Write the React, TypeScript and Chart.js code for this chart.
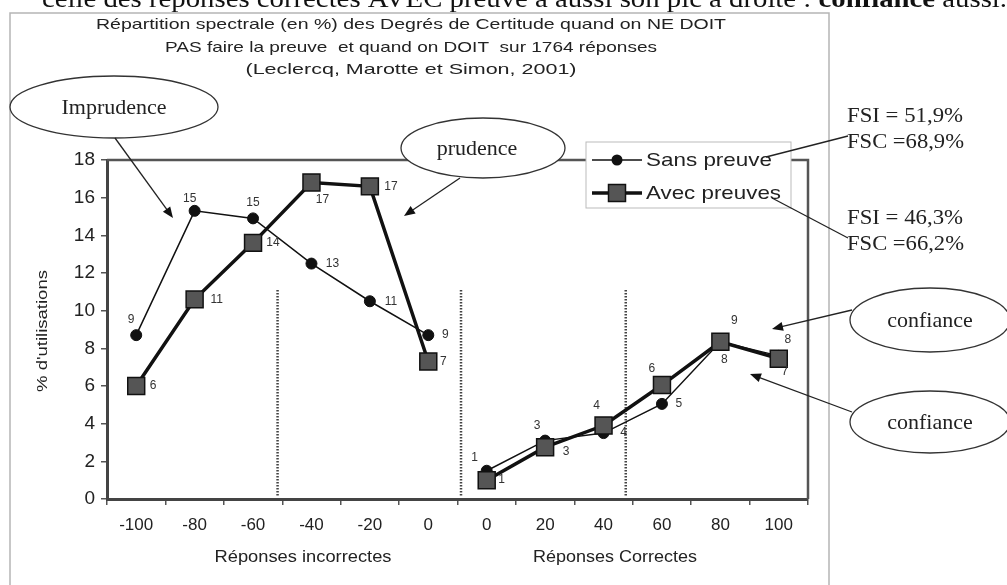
import React, { useEffect, useRef } from 'react';
import { Chart, registerables } from 'chart.js';

Chart.register(...registerables);

const categories = ['-100', '-80', '-60', '-40', '-20', '0', '0', '20', '40', '60', '80', '100'];
const sansPreuve = [8.7, 15.3, 14.9, 12.5, 10.5, 8.7, 1.5, 3.1, 3.5, 5.05, 8.35, 7.6];
const avecPreuves = [6.0, 10.6, 13.6, 16.8, 16.6, 7.3, 1.0, 2.75, 3.9, 6.05, 8.35, 7.45];
const sansLabels = ['9', '15', '15', '13', '11', '9', '1', '3', '4', '5', '9', '8'];
const avecLabels = ['6', '11', '14', '17', '17', '7', '1', '3', '4', '6', '8', '7'];
const seriesNames = ['Sans preuve', 'Avec preuves'];
const titleLines = [
  'Répartition spectrale (en %) des Degrés de Certitude quand on NE DOIT',
  'PAS faire la preuve  et quand on DOIT  sur 1764 réponses',
  '(Leclercq, Marotte et Simon, 2001)',
];
const xTitles = ['Réponses incorrectes', 'Réponses Correctes'];
const yTitle = "% d'utilisations";
const headerNormal = 'celle des réponses correctes AVEC preuve a aussi son pic à droite : ';
const headerBold = 'confiance';
const headerEnd = ' aussi.';
const fsSans = ['FSI = 51,9%', 'FSC =68,9%'];
const fsAvec = ['FSI = 46,3%', 'FSC =66,2%'];
const bubbleTexts = ['Imprudence', 'prudence', 'confiance', 'confiance'];

function fitText(ctx: CanvasRenderingContext2D, text: string, x: number, y: number, font: string, width: number | null, align: CanvasTextAlign = 'center') {
  ctx.save();
  ctx.font = font;
  const w = ctx.measureText(text).width;
  const s = width ? width / w : 1;
  ctx.translate(x, y);
  ctx.scale(s, 1);
  ctx.textAlign = align;
  ctx.textBaseline = 'middle';
  ctx.fillText(text, 0, 0);
  ctx.restore();
}

function arrow(ctx: CanvasRenderingContext2D, x1: number, y1: number, x2: number, y2: number, head = true) {
  ctx.save();
  ctx.strokeStyle = '#222';
  ctx.fillStyle = '#111';
  ctx.lineWidth = 1.3;
  const ang = Math.atan2(y2 - y1, x2 - x1);
  const hl = head ? 11 : 0;
  ctx.beginPath();
  ctx.moveTo(x1, y1);
  ctx.lineTo(x2 - Math.cos(ang) * hl * 0.8, y2 - Math.sin(ang) * hl * 0.8);
  ctx.stroke();
  if (head) {
    ctx.beginPath();
    ctx.moveTo(x2, y2);
    ctx.lineTo(x2 - hl * Math.cos(ang) + 4.5 * Math.sin(ang), y2 - hl * Math.sin(ang) - 4.5 * Math.cos(ang));
    ctx.lineTo(x2 - hl * Math.cos(ang) - 4.5 * Math.sin(ang), y2 - hl * Math.sin(ang) + 4.5 * Math.cos(ang));
    ctx.closePath();
    ctx.fill();
  }
  ctx.restore();
}

function bubble(ctx: CanvasRenderingContext2D, cx: number, cy: number, rx: number, ry: number, text: string, tx?: number) {
  ctx.save();
  ctx.beginPath();
  ctx.ellipse(cx, cy, rx, ry, 0, 0, Math.PI * 2);
  ctx.fillStyle = '#fff';
  ctx.fill();
  ctx.strokeStyle = '#333';
  ctx.lineWidth = 1.3;
  ctx.stroke();
  ctx.fillStyle = '#222';
  fitText(ctx, text, tx ?? cx, cy + 1, '22px "Liberation Serif", "Times New Roman", serif', null);
  ctx.restore();
}

const sansOffsets = [[-5, -15], [-5, -12], [0, -16], [21, 0], [21, 0], [17, 0], [-12, -13], [-8, -15], [20, 0], [17, 0], [14, -21], [9, -16]];
const avecOffsets = [[17, 0], [22, 0], [20, 0], [11, 17], [21, 0], [15, 0], [15, 0], [21, 4], [-7, -20], [-10, -16], [4, 18], [6, 13]];

const decorPlugin = {
  id: 'decor',
  beforeDraw(chart: any) {
    const ctx = chart.ctx as CanvasRenderingContext2D;
    ctx.save();
    ctx.fillStyle = '#fff';
    ctx.fillRect(0, 0, chart.width, chart.height);
    ctx.strokeStyle = '#b5b5b5';
    ctx.lineWidth = 1.5;
    ctx.strokeRect(10, 13, 819, 600);
    // header (cut) text, stretched to the scanned width
    ctx.fillStyle = '#111';
    ctx.textBaseline = 'alphabetic';
    const reg = '25px "Liberation Serif", "Times New Roman", serif';
    const bold = 'bold 25px "Liberation Serif", "Times New Roman", serif';
    ctx.font = reg;
    const w1 = ctx.measureText(headerNormal).width;
    const w3 = ctx.measureText(headerEnd).width;
    ctx.font = bold;
    const w2 = ctx.measureText(headerBold).width;
    const s = 965 / (w1 + w2 + w3);
    ctx.translate(42, 7);
    ctx.scale(s, 1);
    ctx.font = reg;
    ctx.fillText(headerNormal, 0, 0);
    ctx.font = bold;
    ctx.fillText(headerBold, w1, 0);
    ctx.font = reg;
    ctx.fillText(headerEnd, w1 + w2, 0);
    ctx.restore();
  },
  beforeDatasetsDraw(chart: any) {
    const ctx = chart.ctx as CanvasRenderingContext2D;
    const { left, right, top, bottom } = chart.chartArea;
    const xs = chart.scales.x;
    const ys = chart.scales.y;
    ctx.save();
    ctx.strokeStyle = '#555';
    ctx.lineWidth = 2.5;
    ctx.beginPath();
    ctx.moveTo(left, top);
    ctx.lineTo(right, top);
    ctx.lineTo(right, bottom);
    ctx.stroke();
    // dotted separators
    ctx.strokeStyle = '#444';
    ctx.lineWidth = 2.5;
    ctx.setLineDash([1.5, 1.5]);
    const step = xs.getPixelForValue(1) - xs.getPixelForValue(0);
    [2.42, 5.56, 8.38].forEach((p) => {
      const px = xs.getPixelForValue(0) + p * step;
      ctx.beginPath();
      ctx.moveTo(px, ys.getPixelForValue(11.1));
      ctx.lineTo(px, bottom - 3);
      ctx.stroke();
    });
    ctx.restore();
  },
  afterDatasetsDraw(chart: any) {
    const ctx = chart.ctx as CanvasRenderingContext2D;
    ctx.save();
    ctx.fillStyle = '#333';
    ctx.font = '12px "Liberation Sans", Arial, sans-serif';
    ctx.textAlign = 'center';
    ctx.textBaseline = 'middle';
    const m0 = chart.getDatasetMeta(0);
    const m1 = chart.getDatasetMeta(1);
    m0.data.forEach((pt: any, i: number) => {
      ctx.fillText(sansLabels[i], pt.x + sansOffsets[i][0], pt.y + sansOffsets[i][1]);
    });
    m1.data.forEach((pt: any, i: number) => {
      ctx.fillText(avecLabels[i], pt.x + avecOffsets[i][0], pt.y + avecOffsets[i][1]);
    });
    ctx.restore();
  },
  afterDraw(chart: any) {
    const ctx = chart.ctx as CanvasRenderingContext2D;
    ctx.save();
    ctx.fillStyle = '#222';
    // title
    const tw = [630, 492, 331];
    const ty = [25, 48, 70];
    titleLines.forEach((t, i) => fitText(ctx, t, 411, ty[i], '15px "Liberation Sans", Arial, sans-serif', tw[i]));
    // y title
    ctx.save();
    ctx.translate(43, 331);
    ctx.rotate(-Math.PI / 2);
    fitText(ctx, yTitle, 0, 0, '14px "Liberation Sans", Arial, sans-serif', 122);
    ctx.restore();
    // x titles
    fitText(ctx, xTitles[0], 303, 557, '17px "Liberation Sans", Arial, sans-serif', 177);
    fitText(ctx, xTitles[1], 615, 557, '17px "Liberation Sans", Arial, sans-serif', 164);

    // legend
    ctx.fillStyle = '#fff';
    ctx.fillRect(586, 142, 205, 66);
    ctx.strokeStyle = '#bbb';
    ctx.lineWidth = 1;
    ctx.strokeRect(586, 142, 205, 66);
    ctx.strokeStyle = '#111';
    ctx.lineWidth = 1.5;
    ctx.beginPath();
    ctx.moveTo(592, 160);
    ctx.lineTo(642, 160);
    ctx.stroke();
    ctx.fillStyle = '#111';
    ctx.beginPath();
    ctx.arc(617, 160, 5.5, 0, Math.PI * 2);
    ctx.fill();
    ctx.lineWidth = 3.5;
    ctx.beginPath();
    ctx.moveTo(592, 193);
    ctx.lineTo(642, 193);
    ctx.stroke();
    ctx.fillStyle = '#555';
    ctx.fillRect(608.5, 184.5, 17, 17);
    ctx.lineWidth = 1.5;
    ctx.strokeRect(608.5, 184.5, 17, 17);
    ctx.fillStyle = '#222';
    fitText(ctx, seriesNames[0], 646, 161, '19px "Liberation Sans", Arial, sans-serif', 126, 'left');
    fitText(ctx, seriesNames[1], 646, 194, '19px "Liberation Sans", Arial, sans-serif', 135, 'left');

    // bubbles
    bubble(ctx, 114, 107, 104, 31, bubbleTexts[0]);
    bubble(ctx, 483, 148, 82, 30, bubbleTexts[1], 477);
    bubble(ctx, 930, 320, 80, 32, bubbleTexts[2]);
    bubble(ctx, 930, 422, 80, 31, bubbleTexts[3]);

    // arrows
    arrow(ctx, 115, 138, 173, 218);
    arrow(ctx, 460, 178, 404, 216);
    arrow(ctx, 852, 310, 772, 329);
    arrow(ctx, 852, 412, 750, 374);
    arrow(ctx, 848, 136, 766, 157, false);
    arrow(ctx, 848, 238, 772, 198, false);

    // FSI / FSC
    ctx.fillStyle = '#222';
    const serif = '21px "Liberation Serif", "Times New Roman", serif';
    fitText(ctx, fsSans[0], 847, 116, serif, 116, 'left');
    fitText(ctx, fsSans[1], 847, 142, serif, 117, 'left');
    fitText(ctx, fsAvec[0], 847, 218, serif, 116, 'left');
    fitText(ctx, fsAvec[1], 847, 244, serif, 117, 'left');
    ctx.restore();
  },
};

export default function App() {
  const ref = useRef<HTMLCanvasElement | null>(null);
  useEffect(() => {
    if (!ref.current) return;
    const chart = new Chart(ref.current, {
      type: 'line',
      data: {
        labels: categories,
        datasets: [
          {
            label: seriesNames[0],
            data: sansPreuve,
            borderColor: '#111',
            borderWidth: 1.5,
            pointStyle: 'circle',
            pointRadius: 5.5,
            pointBorderWidth: 1,
            pointBackgroundColor: '#111',
            pointBorderColor: '#111',
            order: 1,
            segment: { borderColor: (c: any) => (c.p0DataIndex === 5 ? 'rgba(0,0,0,0)' : undefined) },
          },
          {
            label: seriesNames[1],
            data: avecPreuves,
            borderColor: '#111',
            borderWidth: 3.5,
            pointStyle: 'rect',
            pointRadius: 12,
            pointBorderWidth: 1.5,
            pointBackgroundColor: '#555',
            pointBorderColor: '#111',
            order: 0,
            segment: { borderColor: (c: any) => (c.p0DataIndex === 5 ? 'rgba(0,0,0,0)' : undefined) },
          },
        ],
      },
      options: {
        responsive: false,
        animation: false,
        layout: { padding: { left: 0, right: 199, top: 160, bottom: 0 } },
        plugins: { legend: { display: false }, tooltip: { enabled: false }, title: { display: false } },
        scales: {
          x: {
            type: 'category',
            offset: true,
            grid: { offset: true, drawOnChartArea: false, drawTicks: true, tickLength: 6, color: '#555', lineWidth: 1.5 },
            border: { display: true, color: '#444', width: 3 },
            ticks: { color: '#222', font: { family: '"Liberation Sans", Arial, sans-serif', size: 17 }, padding: 10, maxRotation: 0, autoSkip: false },
            afterFit: (s: any) => { s.height = 86; },
          },
          y: {
            min: 0,
            max: 18,
            ticks: { stepSize: 2, color: '#222', font: { family: '"Liberation Sans", Arial, sans-serif', size: 19 }, padding: 6 },
            grid: { drawOnChartArea: false, drawTicks: true, tickLength: 6, color: '#555', lineWidth: 1.5 },
            border: { display: true, color: '#444', width: 3 },
            afterFit: (s: any) => { s.width = 107; },
          },
        },
      },
      plugins: [decorPlugin],
    } as any);
    return () => chart.destroy();
  }, []);
  return (
    <div style={{ position: 'absolute', left: 0, top: 0, width: 1007, height: 585 }}>
      <canvas ref={ref} width={1007} height={585} style={{ display: 'block', width: 1007, height: 585 }} />
    </div>
  );
}
